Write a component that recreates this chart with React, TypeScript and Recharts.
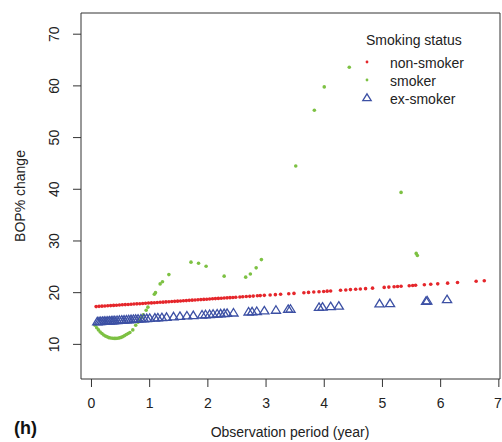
import { ScatterChart, Scatter, XAxis, YAxis, ReferenceArea, Customized } from 'recharts';

// axis ticks
const xTicks = [0, 1, 2, 3, 4, 5, 6, 7];
const yTicks = [10, 20, 30, 40, 50, 60, 70];

// non-smoker (red dots)
const nonSmokerX = [
  0.08, 0.13, 0.18, 0.23, 0.28, 0.33, 0.38, 0.43, 0.48, 0.53, 0.58, 0.63, 0.68, 0.73, 0.78, 0.83,
  0.88, 0.93, 0.98, 1.03, 1.08, 1.13, 1.18, 1.23, 1.28, 1.33, 1.38, 1.43, 1.48, 1.53, 1.58, 1.63,
  1.68, 1.73, 1.78, 1.83, 1.88, 1.93, 1.98, 2.03, 2.08, 2.13, 2.18, 2.23, 2.28, 2.33, 2.38, 2.43,
  2.48, 2.55, 2.6, 2.66, 2.72, 2.78, 2.85, 2.9, 2.97, 3.07, 3.16, 3.25, 3.39, 3.48, 3.65, 3.73,
  3.82, 3.91, 3.99, 4.05, 4.11, 4.28, 4.37, 4.45, 4.54, 4.62, 4.71, 4.83, 5.03, 5.11, 5.2, 5.26,
  5.32, 5.46, 5.52, 5.57, 5.72, 5.83, 5.95, 6.12, 6.29, 6.61, 6.75,
];
const nonSmokerY = [
  17.31, 17.35, 17.39, 17.42, 17.46, 17.5, 17.54, 17.57, 17.61, 17.65, 17.69, 17.72, 17.76, 17.8, 17.84, 17.87,
  17.91, 17.95, 17.99, 18.02, 18.06, 18.1, 18.14, 18.17, 18.21, 18.25, 18.29, 18.32, 18.36, 18.4, 18.44, 18.47,
  18.51, 18.55, 18.59, 18.62, 18.66, 18.7, 18.74, 18.77, 18.81, 18.85, 18.89, 18.92, 18.96, 19.0, 19.04, 19.07,
  19.11, 19.16, 19.2, 19.25, 19.29, 19.34, 19.39, 19.43, 19.48, 19.55, 19.62, 19.69, 19.79, 19.86, 19.99, 20.05,
  20.12, 20.18, 20.24, 20.29, 20.33, 20.46, 20.53, 20.59, 20.66, 20.72, 20.78, 20.87, 21.02, 21.08, 21.15, 21.2,
  21.24, 21.35, 21.39, 21.43, 21.54, 21.62, 21.71, 21.84, 21.97, 22.21, 22.31,
];

// smoker (green dots)
const smokerX = [
  0.06, 0.09, 0.12, 0.15, 0.18, 0.21, 0.24, 0.27, 0.3, 0.33, 0.36, 0.39, 0.42, 0.45, 0.48, 0.51,
  0.54, 0.57, 0.6, 0.63, 0.66, 0.71, 0.76, 0.8, 0.83, 0.86, 0.89, 0.94, 0.97, 1.08, 1.1, 1.18,
  1.22, 1.33, 1.71, 1.84, 1.97, 2.28, 2.65, 2.73, 2.83, 2.92, 3.51, 3.83, 4.0, 4.43, 5.32, 5.58, 5.6,
];
const smokerY = [
  13.7, 13.2, 12.8, 12.4, 12.1, 11.8, 11.6, 11.45, 11.3, 11.22, 11.17, 11.15, 11.15, 11.18, 11.25, 11.35,
  11.5, 11.7, 11.9, 12.1, 12.3, 12.8, 13.7, 14.3, 14.7, 15.2, 15.7, 16.6, 17.2, 19.7, 20.0, 21.7,
  22.1, 23.5, 25.9, 25.7, 25.1, 23.2, 23.0, 23.6, 24.8, 26.4, 44.5, 55.3, 59.8, 63.6, 39.4, 27.6, 27.2,
];

// ex-smoker (blue open triangles)
const exSmokerX = [
  0.1, 0.13, 0.16, 0.19, 0.22, 0.25, 0.28, 0.31, 0.34, 0.37, 0.4, 0.44, 0.48, 0.52, 0.56, 0.6,
  0.64, 0.68, 0.72, 0.76, 0.8, 0.85, 0.9, 0.95, 1.0, 1.09, 1.14, 1.21, 1.29, 1.41, 1.52, 1.64,
  1.75, 1.9, 1.96, 2.03, 2.09, 2.16, 2.22, 2.28, 2.33, 2.44, 2.7, 2.76, 2.84, 2.97, 3.17, 3.38,
  3.42, 3.91, 3.97, 4.11, 4.25, 4.95, 5.13, 5.75, 5.77, 6.11,
];
const exSmokerY = [
  14.42, 14.44, 14.47, 14.49, 14.51, 14.53, 14.55, 14.58, 14.6, 14.62, 14.64, 14.67, 14.7, 14.73, 14.76, 14.79,
  14.82, 14.85, 14.88, 14.9, 14.93, 14.97, 15.01, 15.04, 15.08, 15.15, 15.18, 15.23, 15.29, 15.38, 15.46, 15.55,
  15.63, 15.74, 15.78, 15.83, 15.88, 15.93, 15.97, 16.01, 16.05, 16.13, 16.32, 16.36, 16.42, 16.52, 16.66, 16.82,
  16.85, 17.2, 17.25, 17.35, 17.45, 17.9, 17.95, 18.4, 18.45, 18.7,
];

const toPoints = (xs: number[], ys: number[]) => xs.map((x, i) => ({ x, y: ys[i] }));

const RED = '#e5262b';
const GREEN = '#7dc143';
const BLUE = '#3c50a4';
const INK = '#222';
const FONT = 'Liberation Sans, Arial, sans-serif';

const xDomain = [-0.18, 7.02];
const yDomain = [3.3, 74.1];

const Dot = (color: string, r: number) => (props: any) => (
  <circle cx={props.cx} cy={props.cy} r={r} fill={color} />
);

const Triangle = (props: any) => {
  const { cx, cy } = props;
  const d = `M${cx},${cy - 4.2} L${cx + 4.6},${cy + 3.3} L${cx - 4.6},${cy + 3.3} Z`;
  return <path d={d} fill="none" stroke={BLUE} strokeWidth={1.3} />;
};

const XTick = ({ x, y, payload }: any) => (
  <text x={x} y={y} dy="0.71em" textAnchor="middle" fontSize={14} fill={INK} fontFamily={FONT}>
    {payload.value}
  </text>
);

const YTick = ({ x, y, payload }: any) => (
  <text x={x} y={y} transform={`rotate(-90 ${x} ${y})`} textAnchor="middle" fontSize={14} fill={INK} fontFamily={FONT}>
    {payload.value}
  </text>
);

const Annotations = () => (
  <g fontFamily={FONT} fill={INK}>
    <text x={25} y={196} transform="rotate(-90 25 196)" textAnchor="middle" fontSize={14}>
      BOP% change
    </text>
    <text x={290} y={437} textAnchor="middle" fontSize={14}>
      Observation period (year)
    </text>
    <text x={14} y={434} fontSize={18} fontWeight="bold" fill="#111">
      (h)
    </text>
    {/* legend */}
    <text x={366} y={45} fontSize={14}>Smoking status</text>
    <circle cx={367} cy={62} r={1.4} fill={RED} />
    <text x={390} y={68} fontSize={14}>non-smoker</text>
    <circle cx={367} cy={80} r={1.4} fill={GREEN} />
    <text x={390} y={86} fontSize={14}>smoker</text>
    <path d="M367,93.8 L371.2,100.6 L362.8,100.6 Z" fill="none" stroke={BLUE} strokeWidth={1.3} />
    <text x={390} y={104} fontSize={14}>ex-smoker</text>
  </g>
);

export default function App() {
  return (
    <div style={{ position: 'absolute', left: 0, top: 0, background: '#fff' }}>
      <ScatterChart width={502} height={442} margin={{ top: 13, right: 2, bottom: 0, left: 0 }}>
        <XAxis
          type="number"
          dataKey="x"
          domain={xDomain}
          ticks={xTicks}
          allowDataOverflow
          height={63}
          axisLine={false}
          tickSize={8}
          tickMargin={11}
          tickLine={{ stroke: '#333' }}
          tick={<XTick />}
        />
        <YAxis
          type="number"
          dataKey="y"
          domain={yDomain}
          ticks={yTicks}
          allowDataOverflow
          width={81}
          axisLine={false}
          tickSize={8}
          tickMargin={14}
          tickLine={{ stroke: '#333' }}
          tick={<YTick />}
        />
        <ReferenceArea
          x1={xDomain[0]}
          x2={xDomain[1]}
          y1={yDomain[0]}
          y2={yDomain[1]}
          fill="none"
          stroke="#333"
          strokeWidth={1}
        />
        <Scatter data={toPoints(nonSmokerX, nonSmokerY)} shape={Dot(RED, 1.8)} isAnimationActive={false} />
        <Scatter data={toPoints(smokerX, smokerY)} shape={Dot(GREEN, 1.8)} isAnimationActive={false} />
        <Scatter data={toPoints(exSmokerX, exSmokerY)} shape={Triangle} isAnimationActive={false} />
        <Customized component={Annotations} />
      </ScatterChart>
    </div>
  );
}
